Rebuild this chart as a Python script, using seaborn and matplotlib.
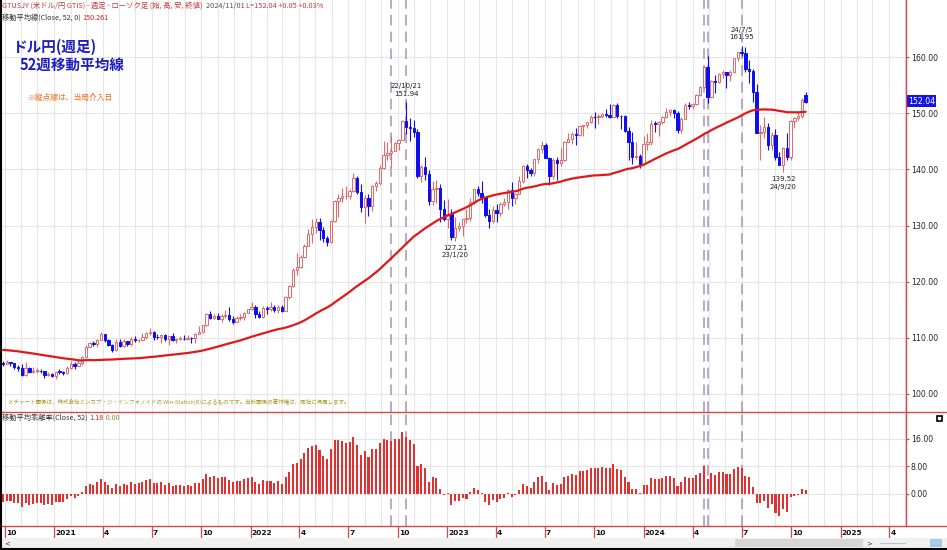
import numpy as np
import pandas as pd
import matplotlib
matplotlib.use("Agg")
import matplotlib.pyplot as plt
import matplotlib.dates as mdates
import matplotlib.transforms as mtransforms
from matplotlib.lines import Line2D
from matplotlib.patches import Rectangle
import seaborn as sns

# ---------------- data (weekly USD/JPY candles, week starting Mondays) ----------------
first_week = "2020-09-28"

# closes of the 52 weeks before the first visible candle (needed for the 52-week MA)
pre_close = [106.9, 108.3, 108.4, 108.7, 108.2, 109.3, 108.8, 108.7, 109.5, 108.6, 109.4, 109.4, 109.4,
             108.1, 109.5, 110.1, 109.3, 108.4, 109.8, 109.8, 111.6, 107.9, 105.4, 108.0, 110.8, 107.9,
             108.5, 108.5, 107.5, 107.5, 106.9, 106.6, 107.1, 107.6, 107.8, 109.6, 107.4, 106.9, 107.2,
             107.5, 106.9, 107.0, 106.1, 105.9, 105.9, 106.6, 105.8, 105.4, 106.2, 106.1, 104.6, 105.6]

opens = [105.58, 105.33, 105.61, 105.41, 104.71, 104.65, 103.35, 104.62, 103.86, 104.08,
         104.16, 104.04, 103.30, 103.62, 103.24, 103.94, 103.87, 103.78, 104.67, 105.39,
         104.95, 105.45, 106.57, 108.33, 109.03, 108.86, 109.64, 110.68, 109.66, 108.79,
         107.89, 109.31, 108.59, 109.36, 108.96, 109.84, 109.51, 109.67, 110.21, 110.79,
         111.05, 110.14, 110.06, 110.55, 109.72, 110.25, 109.58, 109.80, 109.84, 109.71,
         109.94, 109.91, 110.73, 111.06, 112.24, 114.21, 113.46, 113.96, 113.40, 113.87,
         114.00, 113.37, 112.80, 113.44, 113.70, 114.40, 115.08, 115.56, 114.19, 113.68,
         115.26, 115.21, 115.43, 114.99, 115.55, 114.83, 117.29, 119.17, 122.05, 122.54,
         124.33, 126.42, 128.49, 129.82, 130.55, 129.23, 127.86, 127.11, 130.87, 134.40,
         134.98, 135.19, 135.21, 136.09, 138.56, 136.06, 133.26, 134.99, 133.45, 137.00,
         137.59, 140.19, 142.55, 142.91, 143.34, 144.74, 145.32, 148.69, 147.65, 147.47,
         146.62, 138.79, 140.38, 139.11, 134.30, 136.59, 136.67, 132.87, 131.10, 132.08,
         127.88, 129.59, 129.88, 131.18, 131.37, 134.17, 136.49, 135.87, 135.00, 131.79,
         130.73, 132.80, 132.20, 133.78, 134.18, 136.27, 134.85, 135.71, 137.99, 140.60,
         139.96, 139.37, 141.81, 143.71, 144.31, 142.09, 138.80, 141.76, 141.16, 141.74,
         144.95, 145.39, 146.38, 146.21, 147.81, 147.84, 148.37, 149.36, 149.31, 149.57,
         149.86, 149.66, 149.39, 151.51, 149.54, 149.44, 146.80, 144.95, 142.16, 142.41,
         141.04, 144.60, 144.88, 148.14, 148.14, 148.38, 149.29, 150.20, 150.51, 150.11,
         147.06, 149.05, 151.41, 151.35, 151.62, 153.27, 154.64, 158.33, 152.97, 155.76,
         155.66, 156.98, 157.31, 156.75, 157.37, 159.79, 160.88, 160.73, 157.86, 157.47,
         153.76, 146.53, 146.60, 147.63, 144.36, 146.17, 142.30, 140.84, 143.86, 142.19,
         148.70, 149.12, 149.52, 153.20]

highs = [105.80, 106.11, 105.75, 105.53, 105.07, 105.35, 105.68, 104.73, 104.76, 104.55,
         104.48, 104.14, 103.91, 103.71, 104.09, 104.40, 104.09, 104.94, 105.77, 105.65,
         106.22, 106.70, 108.64, 109.23, 109.36, 109.85, 110.97, 110.69, 109.76, 108.84,
         109.70, 109.70, 109.79, 109.39, 110.20, 110.33, 109.83, 110.83, 110.95, 111.66,
         111.14, 110.70, 110.59, 110.59, 110.37, 110.80, 110.03, 110.26, 110.42, 110.45,
         110.08, 110.80, 112.07, 112.26, 114.46, 114.70, 114.32, 114.44, 114.30, 114.97,
         115.52, 113.95, 113.95, 114.26, 114.51, 115.20, 116.35, 115.85, 114.84, 115.68,
         115.58, 116.34, 115.87, 115.76, 115.80, 117.36, 119.40, 122.43, 125.09, 124.67,
         126.68, 129.40, 131.25, 131.34, 131.34, 129.78, 128.17, 130.98, 134.56, 135.59,
         136.71, 137.00, 136.57, 139.39, 138.88, 137.46, 135.50, 135.58, 137.23, 137.97,
         140.80, 144.99, 144.96, 145.90, 144.91, 145.43, 148.86, 151.94, 149.11, 148.82,
         147.17, 140.83, 142.25, 139.88, 137.86, 138.17, 137.47, 134.50, 134.78, 132.87,
         131.58, 130.60, 131.20, 132.90, 134.83, 136.53, 136.99, 137.91, 135.11, 133.00,
         133.56, 133.76, 134.14, 134.98, 136.56, 137.77, 135.77, 138.75, 140.73, 140.93,
         140.23, 141.94, 143.75, 145.07, 144.66, 142.21, 142.00, 142.14, 143.89, 145.04,
         146.56, 146.64, 147.37, 147.87, 147.95, 148.46, 149.71, 150.16, 149.83, 150.07,
         150.78, 151.72, 151.59, 151.91, 149.75, 149.67, 147.49, 146.59, 144.96, 142.79,
         145.97, 146.41, 148.81, 148.70, 148.58, 149.58, 150.89, 150.77, 150.84, 150.48,
         149.36, 151.86, 151.97, 151.80, 153.39, 154.79, 158.44, 160.21, 155.95, 156.76,
         157.20, 157.71, 157.45, 157.72, 159.83, 160.89, 161.95, 161.78, 159.45, 157.86,
         155.22, 147.90, 149.39, 148.33, 146.67, 147.22, 143.03, 143.95, 146.49, 148.86,
         149.38, 150.32, 152.78, 153.89]

lows = [105.03, 105.30, 104.94, 104.34, 104.03, 103.18, 103.22, 103.65, 103.70, 103.66,
        103.70, 102.87, 103.19, 102.95, 102.59, 103.52, 103.33, 103.55, 104.51, 104.41,
        104.92, 105.13, 106.37, 108.33, 108.60, 108.41, 109.61, 109.32, 108.61, 107.48,
        107.60, 108.34, 108.34, 108.57, 108.56, 109.19, 109.19, 109.62, 109.71, 110.42,
        109.53, 109.73, 109.07, 109.36, 108.72, 109.36, 109.11, 109.58, 109.59, 109.59,
        109.11, 109.11, 110.60, 110.82, 112.14, 113.41, 113.26, 113.29, 112.72, 113.59,
        113.06, 112.53, 112.75, 113.13, 113.14, 114.33, 115.01, 113.48, 113.59, 113.47,
        114.16, 114.75, 114.57, 114.41, 114.65, 114.70, 116.85, 119.11, 121.25, 122.41,
        124.21, 126.30, 126.94, 128.62, 127.51, 127.03, 126.36, 126.86, 130.65, 131.49,
        134.27, 134.74, 134.74, 135.98, 135.56, 132.50, 130.40, 131.73, 132.55, 136.17,
        137.20, 140.12, 141.66, 140.36, 143.28, 143.53, 145.16, 146.23, 145.11, 145.80,
        138.47, 137.68, 138.06, 133.63, 133.63, 134.07, 130.58, 130.78, 129.52, 127.46,
        127.21, 129.03, 128.08, 130.48, 130.73, 133.88, 135.25, 134.08, 131.56, 129.64,
        130.40, 130.63, 131.75, 133.55, 133.02, 133.49, 133.75, 135.61, 137.52, 138.43,
        138.75, 138.88, 141.08, 142.94, 142.07, 137.24, 138.38, 138.05, 140.70, 141.50,
        144.93, 144.54, 144.44, 145.92, 145.91, 147.32, 148.30, 147.30, 148.17, 149.23,
        149.32, 149.20, 149.36, 149.19, 147.15, 146.67, 141.63, 140.96, 141.90, 140.25,
        140.81, 143.42, 144.33, 146.65, 145.89, 148.14, 149.11, 149.46, 149.21, 146.48,
        146.48, 148.93, 150.79, 150.81, 151.54, 153.17, 154.54, 151.86, 152.79, 153.60,
        155.42, 156.38, 154.54, 155.72, 157.17, 159.28, 160.22, 157.30, 155.37, 151.94,
        146.41, 141.68, 145.52, 143.42, 143.45, 141.77, 140.71, 139.52, 141.77, 141.65,
        147.35, 148.73, 149.10, 151.80]

closes = [105.33, 105.61, 105.41, 104.71, 104.65, 103.35, 104.62, 103.86, 104.08, 104.16,
          104.04, 103.30, 103.62, 103.24, 103.94, 103.87, 103.78, 104.67, 105.39, 104.95,
          105.45, 106.57, 108.33, 109.03, 108.86, 109.64, 110.68, 109.66, 108.79, 107.89,
          109.31, 108.59, 109.36, 108.96, 109.84, 109.51, 109.67, 110.21, 110.79, 111.05,
          110.14, 110.06, 110.55, 109.72, 110.25, 109.58, 109.80, 109.84, 109.71, 109.94,
          109.91, 110.73, 111.06, 112.24, 114.21, 113.46, 113.96, 113.40, 113.87, 114.00,
          113.37, 112.80, 113.44, 113.70, 114.40, 115.08, 115.56, 114.19, 113.68, 115.26,
          115.21, 115.43, 114.99, 115.55, 114.83, 117.29, 119.17, 122.05, 122.54, 124.33,
          126.42, 128.49, 129.82, 130.55, 129.23, 127.86, 127.11, 130.87, 134.40, 134.98,
          135.19, 135.21, 136.09, 138.56, 136.06, 133.26, 134.99, 133.45, 137.00, 137.59,
          140.19, 142.55, 142.91, 143.34, 144.74, 145.32, 148.69, 147.65, 147.47, 146.62,
          138.79, 140.38, 139.11, 134.30, 136.59, 136.67, 132.87, 131.10, 132.08, 127.88,
          129.59, 129.88, 131.18, 131.37, 134.17, 136.49, 135.87, 135.00, 131.79, 130.73,
          132.80, 132.20, 133.78, 134.18, 136.27, 134.85, 135.71, 137.99, 140.60, 139.96,
          139.37, 141.81, 143.71, 144.31, 142.09, 138.80, 141.76, 141.16, 141.74, 144.95,
          145.39, 146.38, 146.21, 147.81, 147.84, 148.37, 149.36, 149.31, 149.57, 149.86,
          149.66, 149.39, 151.51, 149.54, 149.44, 146.80, 144.95, 142.16, 142.41, 141.04,
          144.60, 144.88, 148.14, 148.12, 148.38, 149.29, 150.20, 150.51, 150.11, 147.06,
          149.05, 151.41, 151.35, 151.62, 153.27, 154.64, 158.33, 152.97, 155.76, 155.66,
          156.98, 157.31, 156.75, 157.37, 159.79, 160.88, 160.73, 157.86, 157.47, 153.76,
          146.53, 146.60, 147.63, 144.36, 146.17, 142.30, 140.84, 143.86, 142.19, 148.70,
          149.12, 149.52, 152.32, 152.04]

ma_window = 52
intervention_weeks = ["2022-09-19", "2022-10-17", "2024-04-22", "2024-04-29", "2024-07-01"]
price_ticks = [100, 110, 120, 130, 140, 150, 160]
dev_ticks = [0, 8, 16]
quarter_dates = ["2020-10-01", "2021-01-01", "2021-04-01", "2021-07-01", "2021-10-01",
                 "2022-01-01", "2022-04-01", "2022-07-01", "2022-10-01", "2023-01-01",
                 "2023-04-01", "2023-07-01", "2023-10-01", "2024-01-01", "2024-04-01",
                 "2024-07-01", "2024-10-01", "2025-01-01", "2025-04-01"]
quarter_labels = ["10", "2021", "4", "7", "10", "2022", "4", "7", "10", "2023",
                  "4", "7", "10", "2024", "4", "7", "10", "2025", "4"]
peak_notes = [("2022-10-17", 152.9, "22/10/21\n151.94", "bottom"),
              ("2023-01-16", 126.6, "127.21\n23/1/20", "top"),
              ("2024-07-01", 163.0, "24/7/5\n161.95", "bottom"),
              ("2024-09-16", 138.8, "139.52\n24/9/20", "top")]
last_price = "152.04"
ma_header = "150.261"
dev_header = "1.18"

assert len(opens) == len(highs) == len(lows) == len(closes)

# ---------------- derived series ----------------
n = len(closes)
weeks = pd.date_range(first_week, periods=n, freq="7D")
x = mdates.date2num(weeks.to_pydatetime())
all_close = pd.Series(pre_close + closes, dtype=float)
ma = all_close.rolling(ma_window).mean().to_numpy()[len(pre_close):]
c = np.array(closes); o = np.array(opens); h = np.array(highs); l = np.array(lows)
dev = (c - ma) / ma * 100.0
df = pd.DataFrame({"x": x, "ma": ma, "dev": dev})

# ---------------- style ----------------
sns.set_theme(style="white")
plt.rcParams["font.family"] = ["Noto Sans CJK JP", "DejaVu Sans"]
plt.rcParams["axes.unicode_minus"] = False

W, H = 947, 550
fig = plt.figure(figsize=(W / 100, H / 100), dpi=100)
fig.patch.set_facecolor("white")


def fx(px):
    return px / W


def fy(py):
    return 1 - py / H


bot_main, bot_dev, plot_r = 411.8, 525.8, 905.5
ax = fig.add_axes([0, fy(bot_main), fx(plot_r), bot_main / H])
ax2 = fig.add_axes([0, fy(bot_dev), fx(plot_r), (bot_dev - bot_main) / H])

xl = (mdates.date2num(pd.Timestamp("2020-09-22 12:00")), mdates.date2num(pd.Timestamp("2025-05-01 12:00")))
grid_c = "#e6e6e6"
red_line = "#d84848"
month_locs = mdates.date2num(pd.date_range("2020-10-01", "2025-05-01", freq="MS").to_pydatetime())
q_locs = mdates.date2num(pd.to_datetime(quarter_dates).to_pydatetime())

for a in (ax, ax2):
    a.set_facecolor("white")
    a.set_xlim(*xl)
    a.set_xticks(q_locs)
    a.set_xticks(month_locs, minor=True)
    a.grid(True, which="both", axis="x", color=grid_c, lw=0.8)
    a.grid(True, which="major", axis="y", color=grid_c, lw=0.8)
    for s in a.spines.values():
        s.set_visible(False)
    a.yaxis.tick_right()
    a.tick_params(axis="y", which="major", direction="out", length=2.5, width=0.8,
                  color=red_line, pad=1.2, labelsize=5.6, labelcolor="#222222", right=True)
    a.tick_params(axis="x", which="minor", length=0)
    a.set_axisbelow(True)

# ---------------- main panel ----------------
up = c >= o
edge = np.where(up, "#e06a6a", "#0d0df2")
face = np.where(up, "white", "#0d0df2")
ax.vlines(x, l, h, colors=edge, lw=0.8, zorder=2)
ax.bar(x, np.maximum(np.abs(c - o), 0.12), bottom=np.minimum(o, c), width=4.4,
       color=face, edgecolor=edge, linewidth=0.7, zorder=3)
sns.lineplot(data=df, x="x", y="ma", ax=ax, color="#e01818", linewidth=1.6, zorder=4,
             legend=False, estimator=None)
ax.set_xlabel(""); ax.set_ylabel("")
ax.set_ylim(96.8, 170.2)
ax.set_yticks(price_ticks)
ax.set_yticklabels([f"{v:.2f}" for v in price_ticks], family="DejaVu Sans")
ax.tick_params(axis="x", which="major", length=0, labelbottom=False)

for d in intervention_weeks:
    xv = mdates.date2num(pd.Timestamp(d))
    for a in (ax, ax2):
        a.axvline(xv, color="#a990bd", lw=1.1, ls=(0, (7, 4)), zorder=1.5)

for d, yv, s, va in peak_notes:
    ax.text(mdates.date2num(pd.Timestamp(d)), yv, s, ha="center", va=va, fontsize=5.0,
            color="#222222", family="DejaVu Sans", linespacing=1.35, zorder=6)

# ---------------- deviation panel ----------------
ax2.bar(df["x"], df["dev"], width=3.8, color="#e03030", linewidth=0, zorder=3)
ax2.set_ylim(-9.3, 23.9)
ax2.set_yticks(dev_ticks)
ax2.set_yticklabels([f"{v:.2f}" for v in dev_ticks], family="DejaVu Sans")
ax2.tick_params(axis="x", which="major", direction="out", length=9, width=0.9,
                color=red_line, labelbottom=False, bottom=True)
trans = mtransforms.blended_transform_factory(ax2.transData, ax2.transAxes)
for qx, lab in zip(q_locs, quarter_labels):
    ax2.text(qx + 2.2, -0.035, lab, transform=trans, ha="left", va="top", fontsize=5.4,
             fontweight="bold", color="#111111", family="DejaVu Sans", clip_on=False)

# ---------------- frame lines ----------------
fig.add_artist(Line2D([fx(plot_r)] * 2, [fy(0), fy(bot_dev)], color=red_line, lw=1.0))
fig.add_artist(Line2D([0, 1], [fy(bot_main)] * 2, color=red_line, lw=1.0))
fig.add_artist(Line2D([0, 1], [fy(bot_dev)] * 2, color=red_line, lw=1.0))

# scrollbar strip
fig.add_artist(Rectangle((0, fy(548)), 1, 10 / H, transform=fig.transFigure,
                         facecolor="#f0f0f0", edgecolor="none"))
fig.add_artist(Rectangle((fx(735), fy(547)), fx(863) - fx(735), 8 / H, transform=fig.transFigure,
                         facecolor="#d6d6d6", edgecolor="none"))
fig.text(fx(4), fy(543), "<", fontsize=5, color="#444444", va="center", family="DejaVu Sans")
fig.text(fx(866), fy(543), ">", fontsize=5, color="#444444", va="center", family="DejaVu Sans")
fig.add_artist(Line2D([fx(880), fx(905)], [fy(543)] * 2, color="#b8c4d8", lw=0.8))
fig.add_artist(Rectangle((fx(930), fy(547)), 12 / W, 8 / H, transform=fig.transFigure,
                         facecolor="#a8c8e8", edgecolor="none"))

# outer black frame (left, bottom)
fig.add_artist(Line2D([fx(0.7)] * 2, [0, 1], color="black", lw=1.5))
fig.add_artist(Line2D([0, 1], [fy(549.2)] * 2, color="black", lw=1.5))

# current price box
fig.add_artist(Rectangle((fx(907), fy(106.5)), 29 / W, 11 / H, transform=fig.transFigure,
                         facecolor="#1414e6", edgecolor="none"))
fig.text(fx(921.5), fy(101), last_price, fontsize=5.6, color="white", ha="center", va="center",
         family="DejaVu Sans")

# small icon in deviation panel
fig.add_artist(Rectangle((fx(937), fy(421)), 5 / W, 5 / H, transform=fig.transFigure,
                         facecolor="white", edgecolor="black", lw=1.2))

# ---------------- header texts ----------------
renderer = fig.canvas.get_renderer()


def chain(x0, y0, parts, size, **kw):
    xp = x0
    for s, col in parts:
        t = fig.text(fx(xp), fy(y0), s, color=col, fontsize=size, ha="left", va="center", **kw)
        bb = t.get_window_extent(renderer=renderer)
        xp = bb.x1


chain(2, 6, [("GTUSJY (米ドル/円 GTIS) - 週足 - ローソク足 (始, 高, 安, 終値)  ", "#c43a3a"),
             ("2024/11/01 ", "#555555"), ("L=152.04 +0.05 +0.03%", "#c43a3a")], 5.3)
chain(2, 17.5, [("移動平均線(Close, 52, 0) ", "#333333"), (ma_header, "#d42020")], 5.2)
chain(2, 418, [("移動平均乖離率(Close, 52) ", "#333333"), (dev_header, "#d42020"),
               (" 0.00", "#8a8a40")], 5.2)

fig.text(fx(12), fy(47), "ドル円(週足)", fontsize=10.5, fontweight="bold", color="#1c1cc0",
         ha="left", va="center")
fig.text(fx(20), fy(65), "52週移動平均線", fontsize=10.5, fontweight="bold", color="#1c1cc0",
         ha="left", va="center")
fig.text(fx(28), fy(98), "※縦点線は、当局介入日", fontsize=5.6, color="#f06a1a",
         ha="left", va="center")
fig.text(fx(8), fy(401.5),
         "※チャート画像は、株式会社ミンカブ・ジ・インフォノイドの Win-Station(R)によるものです。当該画像の著作権は、同社に帰属します。",
         fontsize=4.0, color="#a89a22", ha="left", va="center")

fig.savefig("out.png", dpi=100, facecolor="white")
